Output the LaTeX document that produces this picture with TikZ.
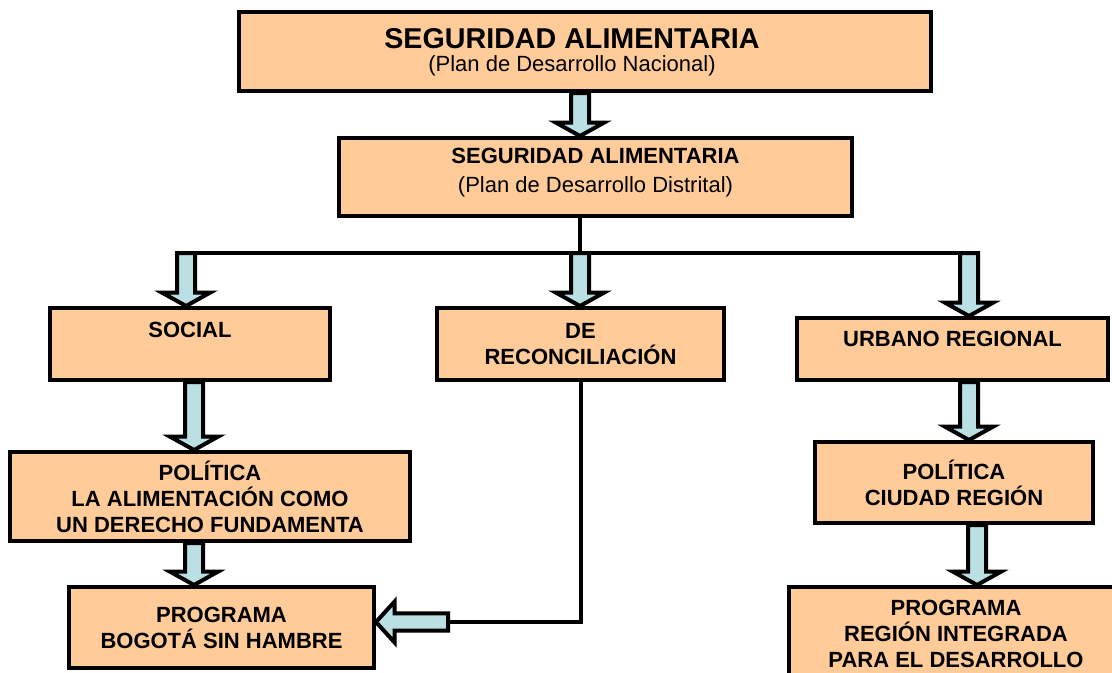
\documentclass[tikz,border=0pt]{standalone}
\usepackage{fontspec}
\setmainfont{Liberation Sans}
\usetikzlibrary{calc}

\definecolor{peach}{RGB}{255,204,153}
\definecolor{paleblue}{RGB}{187,224,227}

% block arrows between two named points
\newcommand{\blockdown}[2]{%
  \draw [blockarrow] let \p1=(#1), \p2=(#2) in
    (\x1-6.75pt,\y1) -- (\x1-6.75pt,\y2+10pt) -- (\x1-18pt,\y2+10pt) -- (\x1,\y2)
    -- (\x1+18pt,\y2+10pt) -- (\x1+6.75pt,\y2+10pt) -- (\x1+6.75pt,\y1) -- cycle;}
\newcommand{\blockleft}[2]{%
  \draw [blockarrow] let \p1=(#1), \p2=(#2) in
    (\x1,\y1+6.4pt) -- (\x2+14pt,\y1+6.4pt) -- (\x2+14pt,\y1+15.4pt) -- (\x2,\y1)
    -- (\x2+14pt,\y1-15.4pt) -- (\x2+14pt,\y1-6.4pt) -- (\x1,\y1-6.4pt) -- cycle;}

\begin{document}
\begin{tikzpicture}[x=0.75pt, y=-0.75pt,
        box/.style={draw=black, line width=3pt, fill=peach, align=center,
          inner sep=0pt, font=\fontsize{16.5}{19.5}\selectfont\bfseries},
        boxsize/.style 2 args={minimum width=#1*0.75pt, minimum height=#2*0.75pt},
        conn/.style={line width=3pt, black},
        blockarrow/.style={draw=black, line width=3pt, fill=paleblue, line join=miter}]

    \useasboundingbox (0,0) rectangle (1112,672);

    \node [box, boxsize={692}{79}] (nacional) at (585,51.5) {};
    \node [align=center, inner sep=0pt, font=\fontsize{16.5}{17.5}\selectfont] (nacionaltxt)
        at ($(nacional.center)+(-13,1)$)
        {{\fontsize{21.5}{17.5}\selectfont\bfseries SEGURIDAD ALIMENTARIA}\\(Plan de Desarrollo Nacional)};
    \node [box, boxsize={513}{78}, font=\fontsize{16.5}{21.75}\selectfont, text depth=10pt] (distrital) at (595.5,177)
        {\textbf{SEGURIDAD ALIMENTARIA}\\(Plan de Desarrollo Distrital)};

    \node [box, boxsize={280}{72}, text depth=21pt] (social) at (190,344) {SOCIAL};
    \node [box, boxsize={287}{72}] (reconc) at (580.5,344) {DE\\RECONCILIACIÓN};
    \node [box, boxsize={311}{62}, text depth=15pt] (urbano) at (952.5,349) {URBANO REGIONAL};

    \node [box, boxsize={400}{89}] (polsocial) at (210,496.5) {POLÍTICA\\LA ALIMENTACIÓN COMO\\UN DERECHO FUNDAMENTA};
    \node [box, boxsize={305}{81}] (progsocial) at (221.5,627.5) {PROGRAMA\\BOGOTÁ SIN HAMBRE};
    \node [box, boxsize={278}{81}] (polurbano) at (954,482.5) {POLÍTICA\\CIUDAD REGIÓN};
    \node [box, boxsize={334}{101}, text depth=6pt] (progurbano) at (956,637.5) {PROGRAMA\\REGIÓN INTEGRADA\\PARA EL DESARROLLO};

    \coordinate (hub) at (580,253);
    \coordinate (hubleft) at (186,253);
    \coordinate (hubright) at (969,253);
    \coordinate (reconend) at (448,622);

    \draw [conn] (distrital.south -| hub) -- (hub);
    \draw [conn] (hubleft) -- (hubright);
    \draw [conn] (reconc.south) |- (reconend);

    \blockdown{$(nacional.south)+(-5,0)$}{distrital.north}
    \blockdown{hubleft}{social.north}
    \blockdown{hub}{reconc.north}
    \blockdown{hubright}{urbano.north}
    \blockdown{$(social.south)+(4,0)$}{polsocial.north}
    \blockdown{$(polsocial.south)+(-16,0)$}{progsocial.north}
    \blockdown{$(urbano.south)+(16.5,0)$}{polurbano.north}
    \blockdown{$(polurbano.south)+(23,0)$}{progurbano.north}
    \blockleft{reconend}{progsocial.east}
\end{tikzpicture}
\end{document}
